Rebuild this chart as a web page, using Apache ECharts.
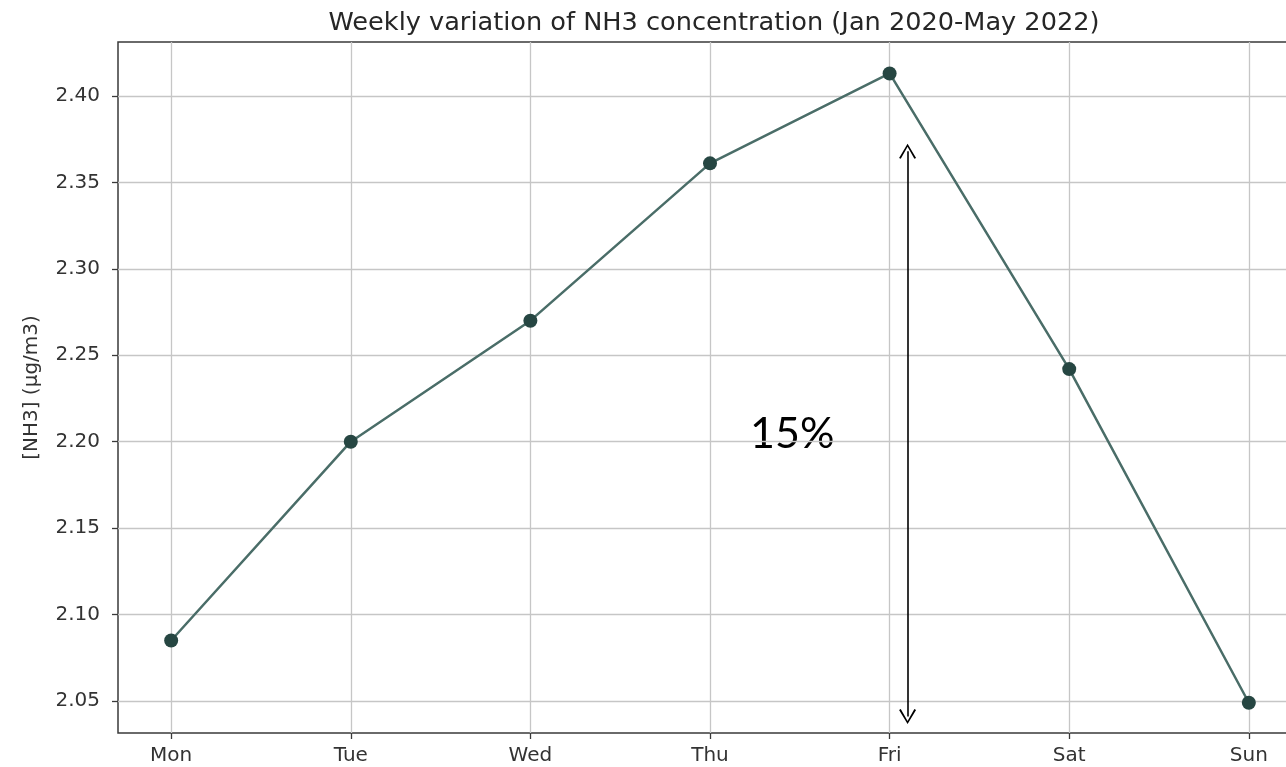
<!DOCTYPE html>
<html>
<head>
<meta charset="utf-8">
<script src="https://cdn.jsdelivr.net/npm/echarts@6/dist/echarts.min.js"></script>
<style>
  html, body { margin: 0; padding: 0; background: #fff; }
  #chart { width: 1286px; height: 767px; }
</style>
</head>
<body>
<div id="chart"></div>
<script>
// weekly NH3 means
var days = ['Mon', 'Tue', 'Wed', 'Thu', 'Fri', 'Sat', 'Sun'];
var nh3 = [2.085, 2.200, 2.270, 2.361, 2.413, 2.242, 2.049];
var yTicks = [2.05, 2.10, 2.15, 2.20, 2.25, 2.30, 2.35, 2.40];
var xTicks = [0, 1, 2, 3, 4, 5, 6];
// annotation arrow (x position, y from / to) and its label
var arrowX = 4.1;
var arrowRange = [2.041, 2.368];
var arrowText = '15%';

var points = nh3.map(function (v, i) { return [i, v]; });
var chevron = 'path://M0,10 L5,0 L10,10 L9,10.6 L5,2.2 L1,10.6 Z';

var chart = echarts.init(document.getElementById('chart'));
var option = {
    animation: false,
    title: {
        text: 'Weekly variation of NH3 concentration (Jan 2020-May 2022)',
        left: 709,
        textAlign: 'center',
        top: 5,
        textStyle: { fontFamily: 'DejaVu Sans', fontSize: 25.6, fontWeight: 'normal', color: '#262626' }
    },
    grid: {
        left: 118, top: 42, right: -16, bottom: 34,
        show: true, borderColor: '#3a3a3a', borderWidth: 1.5,
        outerBoundsMode: 'none'
    },
    xAxis: {
        type: 'value',
        min: -0.296, max: 6.296,
        axisLine: { show: false, onZero: false },
        axisTick: { show: true, customValues: xTicks, length: 6, lineStyle: { color: '#3a3a3a', width: 1.3 } },
        axisLabel: {
            customValues: xTicks,
            margin: 13,
            fontFamily: 'DejaVu Sans', fontSize: 20, color: '#333',
            formatter: function (v) { return days[Math.round(v)]; }
        },
        splitLine: { show: true, customValues: xTicks, lineStyle: { color: '#c6c6c6', width: 1.3 } }
    },
    yAxis: {
        type: 'value',
        min: 2.0315, max: 2.4312,
        name: '[NH3] (µg/m3)',
        nameLocation: 'middle',
        nameGap: 76,
        nameTextStyle: { fontFamily: 'DejaVu Sans', fontSize: 20, color: '#333' },
        axisLine: { show: false, onZero: false },
        axisTick: { show: true, customValues: yTicks, length: 6, lineStyle: { color: '#3a3a3a', width: 1.3 } },
        axisLabel: {
            customValues: yTicks,
            margin: 18,
            fontFamily: 'DejaVu Sans', fontSize: 20, color: '#333',
            formatter: function (v) { return v.toFixed(2); }
        },
        splitLine: { show: true, customValues: yTicks, lineStyle: { color: '#c6c6c6', width: 1.3 } }
    },
    series: [
        {
            type: 'line',
            data: points,
            symbol: 'circle',
            symbolSize: 14,
            lineStyle: { color: '#4a6d68', width: 2.5 },
            itemStyle: { color: '#264642' },
            markLine: {
                silent: true,
                symbol: [chevron, chevron],
                symbolSize: [17, 15],
                label: { show: false },
                lineStyle: { color: '#000', width: 1.6, type: 'solid' },
                data: [[
                    { coord: [arrowX, arrowRange[0]] },
                    { coord: [arrowX, arrowRange[1]] }
                ]]
            }
        }
    ],
    graphic: [
        {
            type: 'text',
            left: 750, top: 413,
            style: { text: arrowText, fontFamily: 'Lato', fontSize: 43, fill: '#000' }
        }
    ]
};
chart.setOption(option);
</script>
</body>
</html>
